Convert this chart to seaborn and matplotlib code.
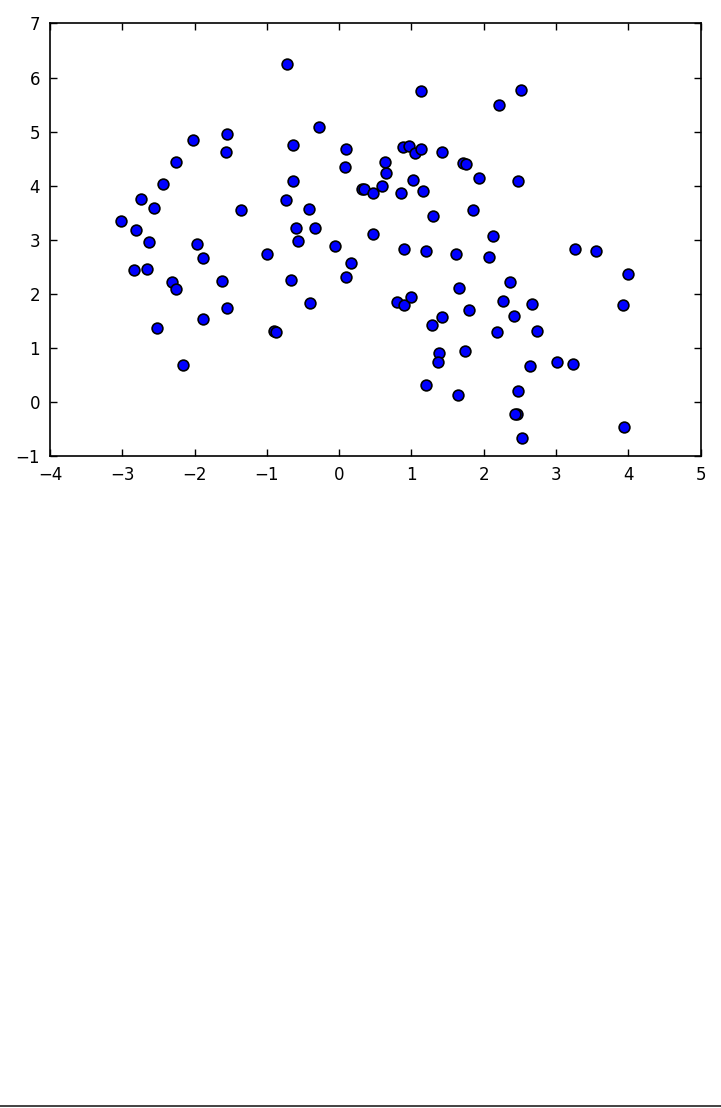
import numpy as np
import seaborn as sns
import matplotlib.pyplot as plt
from matplotlib.lines import Line2D

# point cloud
x_vals = [-0.72, 1.13, 2.21, 2.52, -0.28, -1.55, -2.02, -1.57, -0.64, 0.09,
          0.89, 0.97, 1.05, 1.13, 1.43, 1.72, 1.76, 0.08, 0.63, 0.65,
          -2.26, -2.44, -0.64, 1.02, 0.60, 1.94, 2.48, 0.31, 0.35, 0.47,
          0.86, 1.16, -2.74, -0.74, -2.56, -1.36, -0.42, 1.85, 1.30, -3.02,
          -2.81, -0.33, -0.59, 0.47, -2.63, -1.96, -0.57, 2.13, -0.06, 0.90,
          1.20, 3.26, 3.55, -1.88, -1.00, 1.62, 2.08, 0.17, -2.84, -2.66,
          3.99, 0.10, -2.31, -1.62, -0.66, 2.37, -2.26, 1.66, 2.27, -0.40,
          0.80, 0.90, 1.00, 2.67, 3.93, -1.55, 1.80, 2.42, -1.88, 1.43,
          1.29, -2.52, -0.90, -0.87, 2.19, 2.74, 1.38, 1.74, 1.37, 3.01,
          3.24, 2.64, -2.16, 1.20, 2.47, 1.65, 2.46, 2.44, 3.94, 2.53]
y_vals = [6.25, 5.75, 5.50, 5.77, 5.08, 4.95, 4.84, 4.63, 4.76, 4.68,
          4.71, 4.73, 4.60, 4.68, 4.63, 4.43, 4.41, 4.35, 4.45, 4.24,
          4.45, 4.03, 4.09, 4.11, 3.99, 4.15, 4.09, 3.94, 3.94, 3.86,
          3.86, 3.90, 3.75, 3.73, 3.59, 3.55, 3.57, 3.56, 3.45, 3.35,
          3.18, 3.23, 3.23, 3.11, 2.96, 2.93, 2.99, 3.07, 2.88, 2.83,
          2.80, 2.84, 2.79, 2.67, 2.74, 2.74, 2.68, 2.57, 2.45, 2.47,
          2.37, 2.32, 2.22, 2.24, 2.26, 2.22, 2.09, 2.11, 1.88, 1.84,
          1.86, 1.80, 1.95, 1.81, 1.80, 1.74, 1.70, 1.60, 1.54, 1.57,
          1.43, 1.37, 1.31, 1.30, 1.30, 1.31, 0.92, 0.95, 0.74, 0.74,
          0.71, 0.68, 0.69, 0.32, 0.21, 0.14, -0.21, -0.21, -0.45, -0.65]

plt.rcParams['font.family'] = ['DejaVu Sans']
plt.rcParams['xtick.direction'] = 'in'
plt.rcParams['ytick.direction'] = 'in'
plt.rcParams['xtick.top'] = True
plt.rcParams['ytick.right'] = True

fig = plt.figure(figsize=(7.21, 11.08), dpi=100)
ax = fig.add_axes([0.0693, 0.588, 0.9023, 0.3908])
sns.scatterplot(x=x_vals, y=y_vals, color='b', edgecolor='k', s=60,
                linewidth=1.2, ax=ax, zorder=3)
ax.set_xlim(-4, 5); ax.set_ylim(-1, 7)
ax.set_xticks(np.arange(-4, 6, 1)); ax.set_yticks(np.arange(-1, 8, 1))
ax.tick_params(labelsize=12, length=5, width=1, pad=7)
for sp in ax.spines.values():
    sp.set_linewidth(1.2)

# stray line along the bottom edge of the canvas
fig.add_artist(Line2D([0, 1], [0.0015, 0.0015], color='#222222', lw=1.2))

plt.savefig('out.png', dpi=100, facecolor='w')
